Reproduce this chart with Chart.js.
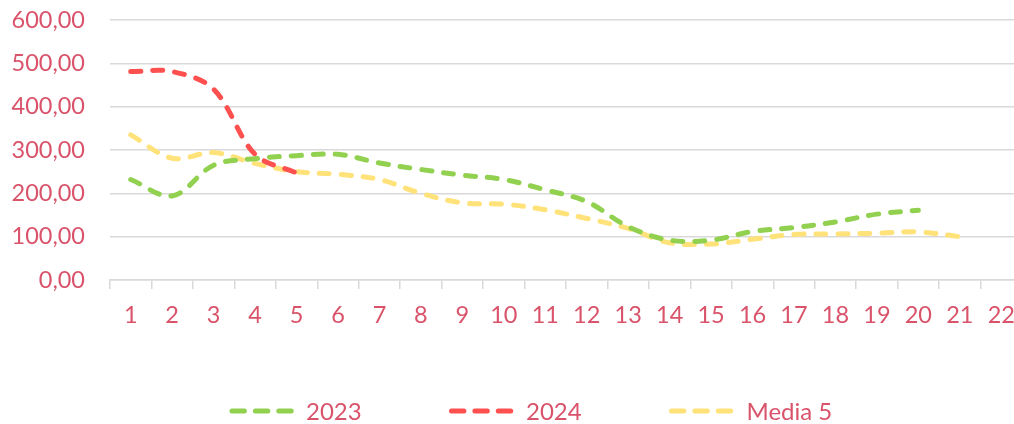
<!DOCTYPE html>
<html>
<head>
<meta charset="utf-8">
<script src="https://cdn.jsdelivr.net/npm/chart.js@4/dist/chart.umd.min.js"></script>
<style>
  html, body { margin: 0; padding: 0; background: #fff; overflow: hidden; }
  #wrap { position: absolute; left: 0; top: 0; width: 1030px; height: 424px; }
  #legend { position: absolute; left: 0; top: 396px; width: 1014px; height: 30px; }
  #legend svg { position: absolute; left: 0; top: 0; }
  #legend span {
    position: absolute; top: 0; line-height: 30px;
    font-family: Lato, sans-serif; font-size: 24px; color: #d9536a; white-space: nowrap;
  }
</style>
</head>
<body>
<div id="wrap"><canvas id="jsChart" width="1030" height="424"></canvas></div>
<div id="legend"></div>
<script>
// values
const labels = ['1', '2', '3', '4', '5', '6', '7', '8', '9', '10', '11',
  '12', '13', '14', '15', '16', '17', '18', '19', '20', '21', '22'];
const serie2023 = [232, 194, 265, 280, 287, 290, 270, 255, 242, 232, 208,
  181, 123, 92, 92, 112, 121, 134, 152, 161, null, null];
const serie2024 = [481, 481, 440, 290, 247, null, null, null, null, null, null,
  null, null, null, null, null, null, null, null, null, null, null];
const media5 = [335, 281, 294, 269, 250, 244, 232, 200, 178, 175, 162,
  142, 119, 86, 83, 94, 105, 106, 108, 111, 100, null];
const yTicks = [0, 100, 200, 300, 400, 500, 600];

const textColor = '#d9536a';
const gridColor = '#d9d9d9';
const font = { family: 'Lato', size: 23.5 };

const lineSet = (label, data, color) => ({
  label: label,
  data: data,
  borderColor: color,
  backgroundColor: color,
  borderWidth: 5,
  borderDash: [10, 12],
  borderCapStyle: 'round',
  tension: 0.35,
  pointRadius: 0,
  fill: false,
});

const datasets = [
  lineSet('2023', serie2023, '#92d050'),
  lineSet('2024', serie2024, '#ff5050'),
  lineSet('Media 5', media5, '#ffe27a'),
];

const ctx = document.getElementById('jsChart');

new Chart(ctx, {
  type: 'line',
  data: {
    labels: labels,
    datasets: datasets,
  },
  options: {
    responsive: false,
    animation: false,
    layout: { padding: { left: 0, right: 8, top: 20, bottom: 84 } },
    scales: {
      x: {
        offset: true,
        grid: {
          offset: true,
          drawOnChartArea: false,
          drawTicks: true,
          tickLength: 9,
          color: gridColor,
          lineWidth: 1.5,
        },
        border: { display: true, color: gridColor, width: 1.5 },
        ticks: { color: textColor, font: font, padding: 12, maxRotation: 0, autoSkip: false },
        afterFit: (scale) => { scale.height = 60; },
      },
      y: {
        min: 0,
        max: 600,
        afterBuildTicks: (scale) => { scale.ticks = yTicks.map((v) => ({ value: v })); },
        grid: { drawTicks: false, color: gridColor, lineWidth: 1.5 },
        border: { display: false },
        ticks: {
          color: textColor,
          font: font,
          padding: 25,
          callback: (v) => v.toFixed(2).replace('.', ','),
        },
        afterFit: (scale) => {
          scale.width = 110;
          scale.paddingTop = 0;
          scale.paddingBottom = 0;
        },
      },
    },
    plugins: {
      tooltip: { enabled: false },
      legend: { display: false },
    },
  },
});

// HTML-selite (Excelin tapaan leveillä väleillä)
const legendPos = [
  { line: 232, text: 306 },
  { line: 451.5, text: 526 },
  { line: 671.5, text: 746.5 },
];
const legendDiv = document.getElementById('legend');
let svg = '<svg width="1014" height="30">';
datasets.forEach((ds, i) => {
  const p = legendPos[i];
  svg += `<line x1="${p.line}" y1="15" x2="${p.line + 59.2}" y2="15" stroke="${ds.borderColor}"
    stroke-width="5" stroke-linecap="round" stroke-dasharray="12.4 11"/>`;
});
svg += '</svg>';
legendDiv.innerHTML = svg;
datasets.forEach((ds, i) => {
  const span = document.createElement('span');
  span.textContent = ds.label;
  span.style.left = legendPos[i].text + 'px';
  legendDiv.appendChild(span);
});
</script>
</body>
</html>
